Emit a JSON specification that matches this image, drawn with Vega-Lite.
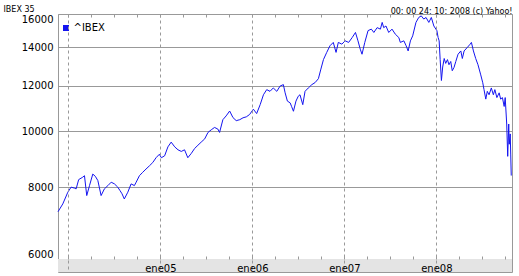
{
  "$schema": "https://vega.github.io/schema/vega-lite/v6.json",
  "autosize": "none",
  "width": 454,
  "height": 258,
  "padding": {"left": 58, "top": 14, "right": 7, "bottom": 4},
  "config": {
    "font": "DejaVu Sans",
    "view": {"stroke": "#999999", "strokeWidth": 1}
  },
  "layer": [
    {
      "data": {"values": [{}]},
      "mark": {"type": "rect", "color": "#e4e4e4"},
      "encoding": {
        "y": {"datum": 5696, "type": "quantitative", "scale": {"type": "log", "domain": [5696, 16000], "nice": false}},
        "y2": {"datum": 6000}
      }
    },
    {
      "data": {"values": [
        {"date": "2003-11-22", "value": 7250},
        {"date": "2003-12-11", "value": 7480},
        {"date": "2003-12-31", "value": 7840},
        {"date": "2004-01-13", "value": 8000},
        {"date": "2004-01-26", "value": 7970},
        {"date": "2004-02-02", "value": 7945},
        {"date": "2004-02-12", "value": 8245},
        {"date": "2004-02-28", "value": 8325},
        {"date": "2004-03-06", "value": 8375},
        {"date": "2004-03-15", "value": 7735},
        {"date": "2004-03-26", "value": 8050},
        {"date": "2004-04-08", "value": 8430},
        {"date": "2004-04-18", "value": 8355},
        {"date": "2004-04-28", "value": 8215},
        {"date": "2004-05-11", "value": 7735},
        {"date": "2004-05-24", "value": 7945},
        {"date": "2004-06-07", "value": 8050},
        {"date": "2004-06-20", "value": 8160},
        {"date": "2004-07-03", "value": 8105},
        {"date": "2004-07-16", "value": 8000},
        {"date": "2004-07-25", "value": 7890},
        {"date": "2004-08-02", "value": 7790},
        {"date": "2004-08-11", "value": 7630},
        {"date": "2004-08-25", "value": 7840},
        {"date": "2004-09-07", "value": 8105},
        {"date": "2004-09-20", "value": 8050},
        {"date": "2004-09-27", "value": 8160},
        {"date": "2004-10-10", "value": 8375},
        {"date": "2004-10-23", "value": 8490},
        {"date": "2004-11-05", "value": 8600},
        {"date": "2004-11-19", "value": 8715},
        {"date": "2004-12-02", "value": 8830},
        {"date": "2004-12-15", "value": 9000},
        {"date": "2004-12-28", "value": 9125},
        {"date": "2005-01-05", "value": 9000},
        {"date": "2005-01-18", "value": 9070},
        {"date": "2005-01-31", "value": 9400},
        {"date": "2005-02-13", "value": 9580},
        {"date": "2005-02-27", "value": 9400},
        {"date": "2005-03-12", "value": 9290},
        {"date": "2005-03-25", "value": 9230},
        {"date": "2005-04-07", "value": 9290},
        {"date": "2005-04-20", "value": 9000},
        {"date": "2005-05-04", "value": 9160},
        {"date": "2005-05-17", "value": 9340},
        {"date": "2005-05-30", "value": 9460},
        {"date": "2005-06-12", "value": 9580},
        {"date": "2005-06-26", "value": 9705},
        {"date": "2005-07-09", "value": 9960},
        {"date": "2005-07-22", "value": 10065},
        {"date": "2005-08-04", "value": 10160},
        {"date": "2005-08-17", "value": 10095},
        {"date": "2005-08-24", "value": 9960},
        {"date": "2005-09-06", "value": 10480},
        {"date": "2005-09-19", "value": 10640},
        {"date": "2005-10-03", "value": 10850},
        {"date": "2005-10-16", "value": 10570},
        {"date": "2005-10-29", "value": 10440},
        {"date": "2005-11-12", "value": 10480},
        {"date": "2005-11-25", "value": 10560},
        {"date": "2005-12-08", "value": 10600},
        {"date": "2005-12-21", "value": 10700},
        {"date": "2006-01-05", "value": 10930},
        {"date": "2006-01-18", "value": 10740},
        {"date": "2006-02-01", "value": 11130},
        {"date": "2006-02-14", "value": 11580},
        {"date": "2006-02-27", "value": 11820},
        {"date": "2006-03-12", "value": 11740},
        {"date": "2006-03-25", "value": 11900},
        {"date": "2006-04-08", "value": 11740},
        {"date": "2006-04-21", "value": 11990},
        {"date": "2006-05-04", "value": 12060},
        {"date": "2006-05-11", "value": 11670},
        {"date": "2006-05-20", "value": 11290},
        {"date": "2006-05-31", "value": 11210},
        {"date": "2006-06-06", "value": 11040},
        {"date": "2006-06-13", "value": 10840},
        {"date": "2006-06-23", "value": 11290},
        {"date": "2006-07-02", "value": 11510},
        {"date": "2006-07-09", "value": 11580},
        {"date": "2006-07-20", "value": 11130},
        {"date": "2006-07-29", "value": 11740},
        {"date": "2006-08-11", "value": 11900},
        {"date": "2006-08-25", "value": 12060},
        {"date": "2006-09-07", "value": 12160},
        {"date": "2006-09-20", "value": 12350},
        {"date": "2006-09-29", "value": 12790},
        {"date": "2006-10-10", "value": 13330},
        {"date": "2006-10-23", "value": 13720},
        {"date": "2006-11-05", "value": 14090},
        {"date": "2006-11-18", "value": 14280},
        {"date": "2006-11-29", "value": 13720},
        {"date": "2006-12-08", "value": 14280},
        {"date": "2006-12-22", "value": 14180},
        {"date": "2007-01-04", "value": 14370},
        {"date": "2007-01-18", "value": 14280},
        {"date": "2007-02-01", "value": 14560},
        {"date": "2007-02-14", "value": 14860},
        {"date": "2007-02-24", "value": 14370},
        {"date": "2007-03-05", "value": 13900},
        {"date": "2007-03-12", "value": 13620},
        {"date": "2007-03-23", "value": 14280},
        {"date": "2007-04-05", "value": 14970},
        {"date": "2007-04-18", "value": 15060},
        {"date": "2007-04-28", "value": 14860},
        {"date": "2007-05-11", "value": 15150},
        {"date": "2007-05-24", "value": 15060},
        {"date": "2007-05-31", "value": 15470},
        {"date": "2007-06-06", "value": 15150},
        {"date": "2007-06-15", "value": 15250},
        {"date": "2007-06-26", "value": 14860},
        {"date": "2007-07-09", "value": 15060},
        {"date": "2007-07-22", "value": 14760},
        {"date": "2007-08-05", "value": 14560},
        {"date": "2007-08-11", "value": 14280},
        {"date": "2007-08-25", "value": 14370},
        {"date": "2007-09-03", "value": 14090},
        {"date": "2007-09-11", "value": 13800},
        {"date": "2007-09-20", "value": 14370},
        {"date": "2007-09-29", "value": 14660},
        {"date": "2007-10-12", "value": 15470},
        {"date": "2007-10-23", "value": 15780},
        {"date": "2007-11-02", "value": 15880},
        {"date": "2007-11-12", "value": 15680},
        {"date": "2007-11-21", "value": 15780},
        {"date": "2007-12-02", "value": 15470},
        {"date": "2007-12-12", "value": 15780},
        {"date": "2007-12-22", "value": 15250},
        {"date": "2008-01-03", "value": 14970},
        {"date": "2008-01-08", "value": 14560},
        {"date": "2008-01-12", "value": 14370},
        {"date": "2008-01-16", "value": 13330},
        {"date": "2008-01-21", "value": 12260},
        {"date": "2008-01-26", "value": 12940},
        {"date": "2008-02-01", "value": 13390},
        {"date": "2008-02-07", "value": 13130},
        {"date": "2008-02-14", "value": 13330},
        {"date": "2008-02-20", "value": 13060},
        {"date": "2008-02-27", "value": 13230},
        {"date": "2008-03-04", "value": 12750},
        {"date": "2008-03-11", "value": 12920},
        {"date": "2008-03-18", "value": 13230},
        {"date": "2008-03-27", "value": 13620},
        {"date": "2008-04-07", "value": 13800},
        {"date": "2008-04-13", "value": 13390},
        {"date": "2008-04-20", "value": 13800},
        {"date": "2008-05-03", "value": 14000},
        {"date": "2008-05-14", "value": 14180},
        {"date": "2008-05-19", "value": 14280},
        {"date": "2008-05-27", "value": 13800},
        {"date": "2008-06-05", "value": 13390},
        {"date": "2008-06-14", "value": 13060},
        {"date": "2008-06-25", "value": 12540},
        {"date": "2008-07-03", "value": 12150},
        {"date": "2008-07-08", "value": 11820},
        {"date": "2008-07-15", "value": 11380},
        {"date": "2008-07-21", "value": 11740},
        {"date": "2008-07-28", "value": 11580},
        {"date": "2008-08-06", "value": 11900},
        {"date": "2008-08-14", "value": 11580},
        {"date": "2008-08-20", "value": 11820},
        {"date": "2008-08-28", "value": 11450},
        {"date": "2008-09-06", "value": 11670},
        {"date": "2008-09-12", "value": 11380},
        {"date": "2008-09-19", "value": 11450},
        {"date": "2008-09-26", "value": 11050},
        {"date": "2008-09-30", "value": 11450},
        {"date": "2008-10-06", "value": 10300},
        {"date": "2008-10-10", "value": 9050},
        {"date": "2008-10-14", "value": 10300},
        {"date": "2008-10-16", "value": 9500},
        {"date": "2008-10-20", "value": 9900},
        {"date": "2008-10-22", "value": 9100},
        {"date": "2008-10-24", "value": 8380}
      ]},
      "mark": {"type": "line", "strokeWidth": 1, "interpolate": "linear"},
      "encoding": {
        "x": {
          "field": "date",
          "type": "temporal",
          "scale": {"type": "utc", "nice": false, "domain": [
            {"year": 2003, "month": 11, "date": 22, "utc": true},
            {"year": 2008, "month": 10, "date": 27, "utc": true}
          ]},
          "axis": {
            "values": [
              {"year": 2004, "month": 1, "date": 1, "utc": true},
              {"year": 2004, "month": 4, "date": 1, "utc": true},
              {"year": 2004, "month": 7, "date": 1, "utc": true},
              {"year": 2004, "month": 10, "date": 1, "utc": true},
              {"year": 2005, "month": 1, "date": 1, "utc": true},
              {"year": 2005, "month": 4, "date": 1, "utc": true},
              {"year": 2005, "month": 7, "date": 1, "utc": true},
              {"year": 2005, "month": 10, "date": 1, "utc": true},
              {"year": 2006, "month": 1, "date": 1, "utc": true},
              {"year": 2006, "month": 4, "date": 1, "utc": true},
              {"year": 2006, "month": 7, "date": 1, "utc": true},
              {"year": 2006, "month": 10, "date": 1, "utc": true},
              {"year": 2007, "month": 1, "date": 1, "utc": true},
              {"year": 2007, "month": 4, "date": 1, "utc": true},
              {"year": 2007, "month": 7, "date": 1, "utc": true},
              {"year": 2007, "month": 10, "date": 1, "utc": true},
              {"year": 2008, "month": 1, "date": 1, "utc": true},
              {"year": 2008, "month": 4, "date": 1, "utc": true},
              {"year": 2008, "month": 7, "date": 1, "utc": true},
              {"year": 2008, "month": 10, "date": 1, "utc": true}
            ],
            "labelExpr": "utcmonth(datum.value) == 0 && utcyear(datum.value) > 2004 ? 'ene' + utcFormat(datum.value, '%y') : ''",
            "grid": true,
            "gridColor": "#999999",
            "gridDash": [3, 3],
            "gridOpacity": {"condition": {"test": "utcmonth(datum.value) == 0", "value": 1}, "value": 0},
            "ticks": true,
            "tickSize": -258,
            "tickColor": "#999999",
            "tickDash": [0, 13, 3, 239, 3, 300],
            "domain": false,
            "labelBaseline": "alphabetic",
            "labelPadding": 257,
            "labelFontSize": 10,
            "labelColor": "#000000",
            "labelFlush": false,
            "labelOverlap": false,
            "labelBound": false,
            "title": "00: 00 24: 10: 2008 (c) Yahoo!",
            "titleX": 454,
            "titleY": -259,
            "titleAlign": "right",
            "titleAnchor": "end",
            "titleBaseline": "alphabetic",
            "titleFontSize": 8,
            "titleFontWeight": "normal",
            "titleColor": "#000000",
            "zindex": 1
          }
        },
        "y": {
          "field": "value",
          "type": "quantitative",
          "scale": {"type": "log", "domain": [5696, 16000], "nice": false},
          "axis": {
            "values": [6000, 8000, 10000, 12000, 14000, 16000],
            "format": "d",
            "grid": true,
            "gridColor": "#999999",
            "ticks": false,
            "domain": false,
            "labelFontSize": 10,
            "labelColor": "#000000",
            "labelPadding": 5,
            "labelBaseline": {"condition": [
              {"test": "datum.value == 6000", "value": "bottom"},
              {"test": "datum.value == 16000", "value": "top"}
            ], "value": "middle"},
            "labelFlush": false,
            "labelOverlap": false,
            "labelBound": false,
            "title": "IBEX 35",
            "titleAngle": 0,
            "titleX": -55,
            "titleY": -3,
            "titleAlign": "left",
            "titleAnchor": "start",
            "titleBaseline": "alphabetic",
            "titleFontSize": 8,
            "titleFontWeight": "normal",
            "titleColor": "#000000"
          }
        },
        "color": {
          "datum": "^IBEX",
          "type": "nominal",
          "scale": {"range": ["#1414f0"]},
          "legend": {
            "orient": "none",
            "legendX": 3,
            "legendY": 9,
            "padding": 0,
            "title": null,
            "symbolType": "square",
            "symbolSize": 36,
            "symbolStrokeWidth": 0,
            "labelFontSize": 10,
            "labelColor": "#000000",
            "labelOffset": 2.5,
            "fillColor": null,
            "encode": {"symbols": {"update": {"fill": {"value": "#1414f0"}, "stroke": {"value": "transparent"}}}}
          }
        }
      }
    }
  ]
}
